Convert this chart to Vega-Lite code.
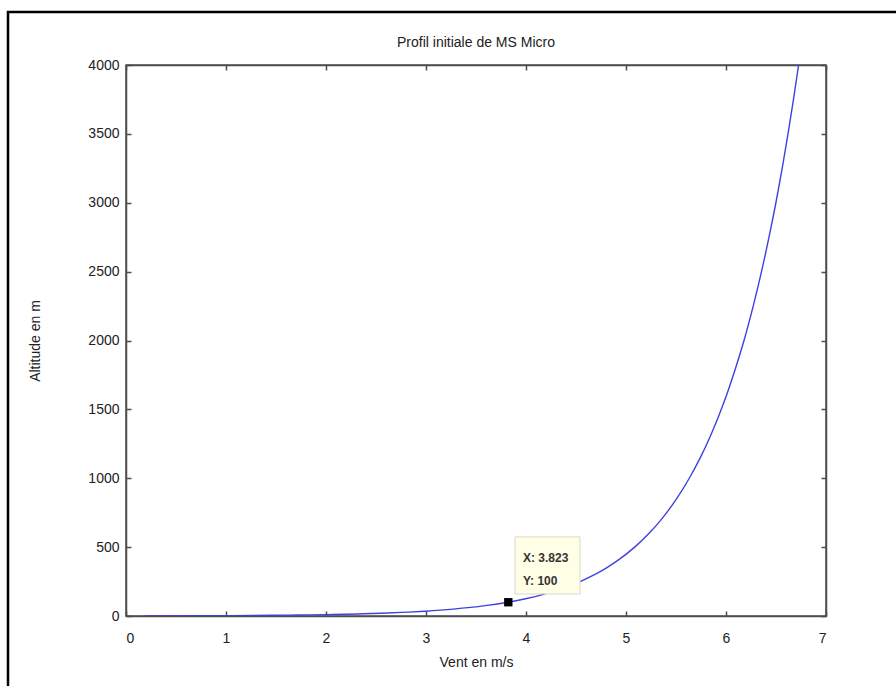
{
  "$schema": "https://vega.github.io/schema/vega-lite/v6.json",
  "width": 700,
  "height": 551,
  "autosize": "none",
  "padding": {"left": 126, "top": 65, "right": 70, "bottom": 70},
  "background": "#ffffff",
  "title": {
    "text": "Profil initiale de MS Micro",
    "fontSize": 14,
    "fontWeight": "normal",
    "font": "Liberation Sans",
    "color": "#222222",
    "offset": 14,
    "dy": 53
  },
  "config": {
    "font": "Liberation Sans",
    "view": {"stroke": "#4d4d4d", "strokeWidth": 1.5},
    "axis": {
      "grid": false,
      "domainColor": "#4d4d4d",
      "domainWidth": 1.5,
      "tickColor": "#4d4d4d",
      "tickWidth": 1.5,
      "tickSize": -5,
      "labelFont": "Liberation Sans",
      "labelFontSize": 14,
      "labelColor": "#222222",
      "titleFont": "Liberation Sans",
      "titleFontSize": 14,
      "titleFontWeight": "normal",
      "titleColor": "#222222"
    }
  },
  "datasets": {
    "profil": [
      {"v": 0.190, "z": 1},
      {"v": 0.736, "z": 2},
      {"v": 1.056, "z": 3},
      {"v": 1.458, "z": 5},
      {"v": 1.723, "z": 7},
      {"v": 2.004, "z": 10},
      {"v": 2.324, "z": 15},
      {"v": 2.551, "z": 20},
      {"v": 2.816, "z": 28},
      {"v": 2.992, "z": 35},
      {"v": 3.273, "z": 50},
      {"v": 3.592, "z": 75},
      {"v": 3.819, "z": 100},
      {"v": 3.995, "z": 125},
      {"v": 4.138, "z": 150},
      {"v": 4.365, "z": 200},
      {"v": 4.541, "z": 250},
      {"v": 4.685, "z": 300},
      {"v": 4.806, "z": 350},
      {"v": 4.911, "z": 400},
      {"v": 5.087, "z": 500},
      {"v": 5.231, "z": 600},
      {"v": 5.352, "z": 700},
      {"v": 5.505, "z": 850},
      {"v": 5.633, "z": 1000},
      {"v": 5.743, "z": 1150},
      {"v": 5.840, "z": 1300},
      {"v": 5.926, "z": 1450},
      {"v": 6.004, "z": 1600},
      {"v": 6.096, "z": 1800},
      {"v": 6.180, "z": 2000},
      {"v": 6.272, "z": 2250},
      {"v": 6.355, "z": 2500},
      {"v": 6.430, "z": 2750},
      {"v": 6.499, "z": 3000},
      {"v": 6.562, "z": 3250},
      {"v": 6.620, "z": 3500},
      {"v": 6.675, "z": 3750},
      {"v": 6.726, "z": 4000}
    ],
    "datatip": [
      {"v": 3.823, "z": 100, "lx": 3.97, "l1z": 421, "l2z": 254, "l1": "X: 3.823", "l2": "Y: 100"}
    ]
  },
  "layer": [
    {
      "data": {"name": "profil"},
      "mark": {"type": "line", "color": "#4040e0", "strokeWidth": 1.4, "clip": true, "interpolate": "monotone"},
      "encoding": {
        "x": {
          "field": "v", "type": "quantitative",
          "scale": {"domain": [0, 7], "nice": false, "zero": false},
          "axis": {"orient": "bottom", "values": [0,1,2,3,4,5,6,7], "title": "Vent en m/s", "labelPadding": 20, "titlePadding": 10}
        },
        "y": {
          "field": "z", "type": "quantitative",
          "scale": {"domain": [0, 4000], "nice": false, "zero": false},
          "axis": {"orient": "left", "values": [0,500,1000,1500,2000,2500,3000,3500,4000], "format": "d", "title": "Altitude en m", "labelPadding": 12, "titlePadding": 45}
        }
      }
    },
    {
      "data": {"name": "profil"},
      "mark": {"type": "line", "opacity": 0},
      "encoding": {
        "x": {
          "field": "v", "type": "quantitative",
          "scale": {"domain": [0, 7], "nice": false, "zero": false},
          "axis": {"orient": "top", "values": [0,1,2,3,4,5,6,7], "labels": false, "title": null}
        },
        "y": {
          "field": "z", "type": "quantitative",
          "scale": {"domain": [0, 4000], "nice": false, "zero": false},
          "axis": {"orient": "right", "values": [0,500,1000,1500,2000,2500,3000,3500,4000], "labels": false, "title": null}
        }
      }
    },
    {
      "data": {"name": "datatip"},
      "mark": {"type": "rect", "fill": "#ffffe6", "stroke": "#d8d8c8", "strokeWidth": 1},
      "encoding": {
        "x": {"datum": 3.89, "type": "quantitative", "scale": {"domain": [0, 7], "nice": false, "zero": false}, "axis": null},
        "x2": {"datum": 4.54},
        "y": {"datum": 574, "type": "quantitative", "scale": {"domain": [0, 4000], "nice": false, "zero": false}, "axis": null},
        "y2": {"datum": 160}
      }
    },
    {
      "data": {"name": "datatip"},
      "mark": {"type": "text", "align": "left", "baseline": "middle", "fontSize": 12, "fontWeight": "bold", "color": "#333333"},
      "encoding": {
        "x": {"field": "lx", "type": "quantitative", "scale": {"domain": [0, 7], "nice": false, "zero": false}, "axis": null},
        "y": {"field": "l1z", "type": "quantitative", "scale": {"domain": [0, 4000], "nice": false, "zero": false}, "axis": null},
        "text": {"field": "l1"}
      }
    },
    {
      "data": {"name": "datatip"},
      "mark": {"type": "text", "align": "left", "baseline": "middle", "fontSize": 12, "fontWeight": "bold", "color": "#333333"},
      "encoding": {
        "x": {"field": "lx", "type": "quantitative", "scale": {"domain": [0, 7], "nice": false, "zero": false}, "axis": null},
        "y": {"field": "l2z", "type": "quantitative", "scale": {"domain": [0, 4000], "nice": false, "zero": false}, "axis": null},
        "text": {"field": "l2"}
      }
    },
    {
      "data": {"name": "datatip"},
      "mark": {"type": "point", "shape": "square", "filled": true, "color": "#000000", "size": 70, "opacity": 1},
      "encoding": {
        "x": {"field": "v", "type": "quantitative", "scale": {"domain": [0, 7], "nice": false, "zero": false}, "axis": null},
        "y": {"field": "z", "type": "quantitative", "scale": {"domain": [0, 4000], "nice": false, "zero": false}, "axis": null}
      }
    },
    {
      "data": {"name": "datatip"},
      "mark": {"type": "rect", "fill": null, "fillOpacity": 0, "stroke": "#000000", "strokeWidth": 2.5, "clip": false},
      "encoding": {
        "x": {"datum": -1.18, "type": "quantitative", "scale": {"domain": [0, 7], "nice": false, "zero": false}, "axis": null},
        "x2": {"datum": 7.9},
        "y": {"datum": 4385, "type": "quantitative", "scale": {"domain": [0, 4000], "nice": false, "zero": false}, "axis": null},
        "y2": {"datum": -800}
      }
    }
  ],
  "resolve": {"axis": {"x": "independent", "y": "independent"}}
}
